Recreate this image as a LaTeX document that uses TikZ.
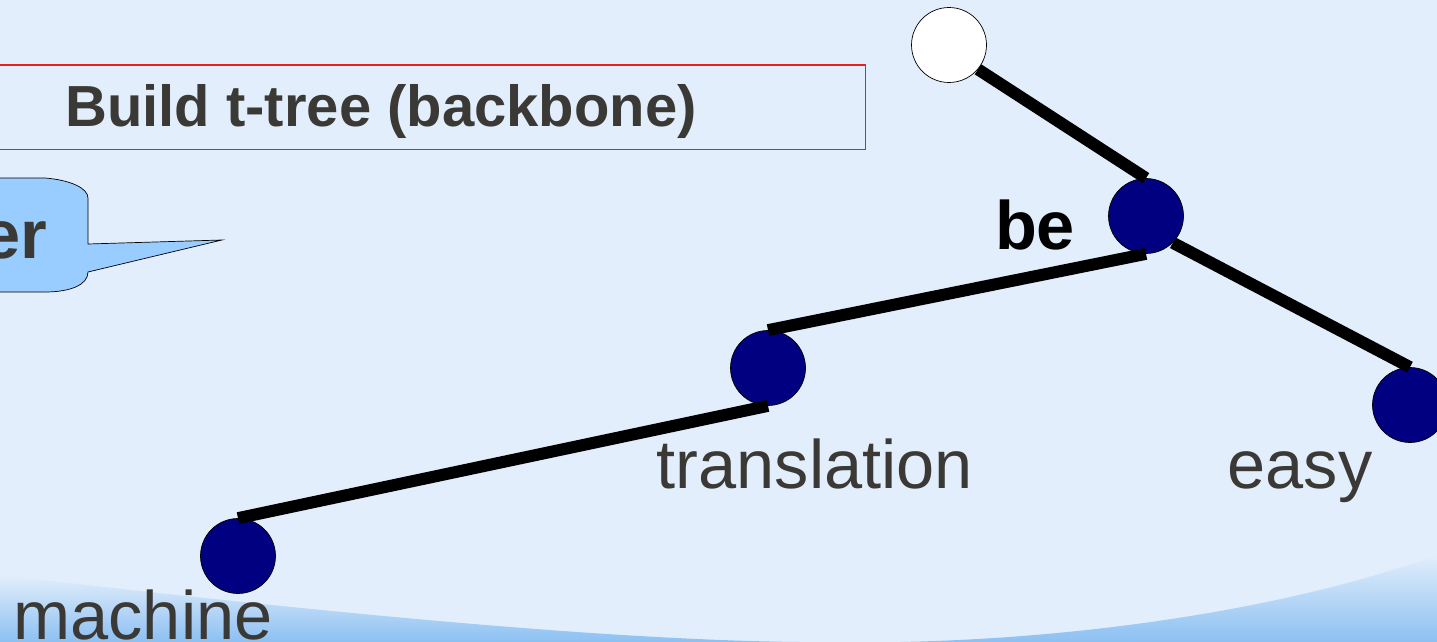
\documentclass[tikz,border=0pt]{standalone}
\usepackage{fontspec}
\setmainfont{Liberation Sans}
\usetikzlibrary{positioning}
\definecolor{bgblue}{RGB}{226,238,251}
\definecolor{waveblue}{RGB}{140,192,242}
\definecolor{navynode}{RGB}{0,0,128}
\definecolor{textgray}{RGB}{59,57,53}
\definecolor{calloutblue}{RGB}{153,204,255}
\definecolor{boxred}{RGB}{235,30,30}

\begin{document}
\begin{tikzpicture}[x=0.02cm,y=-0.02cm,
    tnode/.style={draw,circle,thin,fill=navynode,minimum size=1.5cm,inner sep=0pt},
    word/.style={anchor=base,text=textgray,inner sep=0pt,font=\fontsize{39}{41}\selectfont},
    branch/.style={line width=0.24cm}]
    \useasboundingbox (0,0) rectangle (1437,642);
    \fill[bgblue] (0,0) rectangle (1437,642);
    \shade[top color=bgblue,bottom color=waveblue] (0,575) .. controls (300,610) and (600,640) .. (800,642) -- (0,642) -- cycle;
    \shade[top color=bgblue,bottom color=waveblue] (1437,555) .. controls (1300,605) and (1100,638) .. (900,642) -- (1437,642) -- cycle;

    \node[anchor=north west,minimum width=17.8cm,minimum height=1.68cm,inner sep=0pt] (title) at (-25,65) {};
    \draw[color=boxred,line width=0.8pt] (title.north west) rectangle (title.south east);
    \node[anchor=base west,inner sep=0pt,text=textgray,font=\fontsize{33}{36}\selectfont\bfseries] (titletext) at (65,127) {Build t-tree (backbone)};

    \draw[thin,fill=calloutblue] (-300,178) -- (45,178) .. controls (70,180) and (88,188) .. (88,198) -- (88,244) -- (222,240) -- (88,272) .. controls (88,285) and (70,292) .. (45,292) -- (-300,292) -- cycle;
    \node[anchor=base east,inner sep=0pt,text=textgray,font=\fontsize{39}{41}\selectfont\bfseries] (callout) at (48,258) {er};

    \node[tnode,fill=white] (root) at (949,45) {};
    \node[tnode] (be) at (1146,216) {};
    \node[tnode] (trans) at (768,368) {};
    \node[tnode] (mach) at (238,556) {};
    \node[tnode] (easy) at (1410,405) {};

    \draw[branch] (root.-40) -- (be.north);
    \draw[branch] (be.-45) -- (easy.north);
    \draw[branch] (be.south) -- (trans.north);
    \draw[branch] (trans.south) -- (mach.north);

    \node[word,text=black,font=\fontsize{39}{41}\selectfont\bfseries] (belabel) at (1035,249) {be};
    \node[word] (translabel) at (815,488) {translation};
    \node[word] (easylabel) at (1300,488) {easy};
    \node[word] (machlabel) at (143,639) {machine};
\end{tikzpicture}
\end{document}
